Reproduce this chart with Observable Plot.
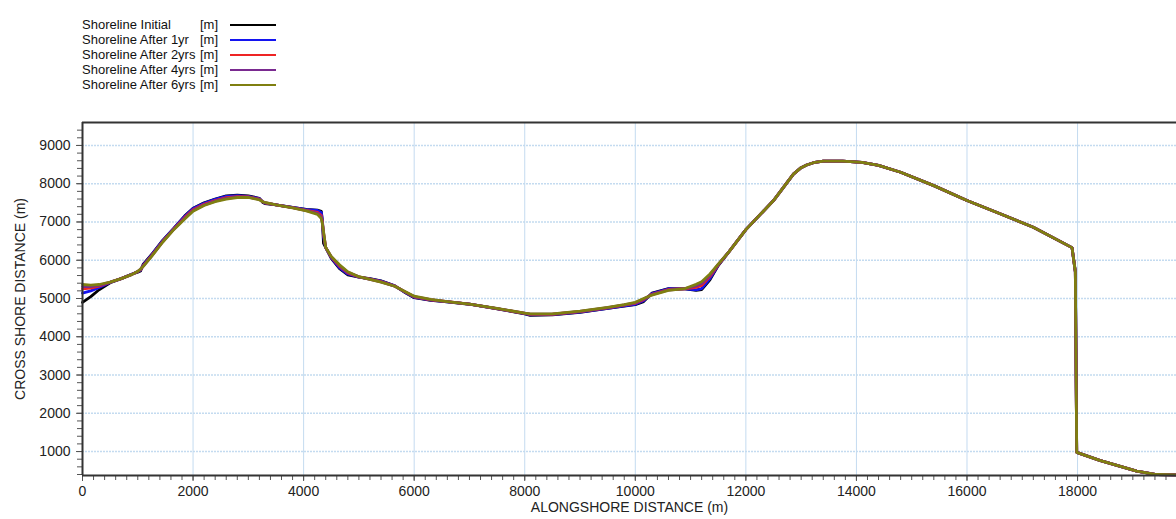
<!DOCTYPE html>
<html><head><meta charset="utf-8">
<script src="https://cdn.jsdelivr.net/npm/d3@7"></script>
<script src="https://cdn.jsdelivr.net/npm/@observablehq/plot@0.6"></script>
<style>
body{margin:0;background:#fff;font-family:"Liberation Sans",Arial,sans-serif;}
#legend{position:relative;height:105px;width:1176px;}
.lg-name{position:absolute;left:82px;font-size:13px;line-height:15px;color:#111;white-space:pre;}
.lg-unit{position:absolute;left:200px;font-size:13px;line-height:15px;color:#111;}
.lg-line{position:absolute;left:230px;width:46px;height:0;border-top:2.5px solid #000;}
#chart svg{display:block;}
</style></head><body>
<div id="legend"></div>
<div id="chart"></div>
<script>
const seriesNames = ["Shoreline Initial", "Shoreline After 1yr", "Shoreline After 2yrs", "Shoreline After 4yrs", "Shoreline After 6yrs"];
const seriesColors = ["#000000", "#1414f0", "#ee2424", "#7a2a90", "#7f7f10"];
const unitLabel = "[m]";

// alongshore positions where the series differ
const headX = [0, 150, 300, 500, 700, 900, 1000, 1050, 1100, 1250, 1450, 1650, 1850, 2000, 2200, 2400, 2600, 2800, 3000, 3200, 3260, 3300, 3500, 3800, 4050, 4250, 4320, 4340, 4360, 4400, 4500, 4650, 4800, 5000, 5200, 5400, 5650, 5850, 6000, 6300, 6600, 7000, 7500, 8000, 8100, 8500, 9000, 9500, 9800, 10000, 10150, 10300, 10600, 10900, 11100, 11200, 11350, 11500, 11700];
const yInitial = [4900, 5050, 5230, 5410, 5520, 5640, 5690, 5720, 5900, 6150, 6520, 6830, 7160, 7360, 7500, 7600, 7680, 7700, 7680, 7620, 7510, 7480, 7450, 7380, 7330, 7310, 7280, 7000, 6440, 6330, 6050, 5780, 5620, 5560, 5520, 5460, 5330, 5140, 5020, 4950, 4910, 4850, 4730, 4600, 4560, 4570, 4640, 4740, 4800, 4840, 4920, 5140, 5260, 5250, 5210, 5230, 5490, 5860, 6230];
const y1yr = [5140, 5200, 5290, 5420, 5520, 5640, 5700, 5740, 5880, 6140, 6510, 6830, 7150, 7350, 7490, 7590, 7670, 7690, 7670, 7610, 7530, 7490, 7450, 7380, 7320, 7300, 7250, 7050, 6600, 6330, 6060, 5800, 5640, 5560, 5515, 5455, 5330, 5150, 5030, 4955, 4912, 4852, 4733, 4605, 4570, 4578, 4645, 4745, 4808, 4850, 4940, 5130, 5255, 5250, 5225, 5260, 5520, 5870, 6235];
const y2yrs = [5250, 5270, 5320, 5425, 5520, 5635, 5705, 5755, 5860, 6120, 6490, 6815, 7120, 7320, 7460, 7560, 7635, 7665, 7655, 7595, 7530, 7500, 7450, 7375, 7305, 7250, 7170, 7000, 6700, 6330, 6080, 5840, 5670, 5565, 5505, 5440, 5325, 5160, 5045, 4965, 4916, 4853, 4736, 4612, 4585, 4588, 4657, 4757, 4824, 4875, 4970, 5110, 5235, 5255, 5290, 5340, 5580, 5880, 6232];
const y4yrs = [5310, 5310, 5345, 5428, 5520, 5632, 5708, 5765, 5850, 6110, 6480, 6808, 7100, 7300, 7445, 7545, 7615, 7650, 7648, 7588, 7530, 7505, 7450, 7372, 7297, 7225, 7130, 6975, 6730, 6330, 6090, 5860, 5685, 5568, 5502, 5435, 5322, 5165, 5052, 4970, 4918, 4854, 4738, 4616, 4592, 4594, 4663, 4763, 4832, 4888, 4985, 5100, 5222, 5258, 5330, 5390, 5610, 5890, 6231];
const y6yrs = [5366, 5350, 5366, 5430, 5520, 5630, 5710, 5770, 5840, 6100, 6470, 6800, 7080, 7280, 7430, 7530, 7600, 7640, 7640, 7580, 7530, 7510, 7450, 7370, 7290, 7200, 7090, 6950, 6750, 6330, 6100, 5880, 5700, 5570, 5500, 5430, 5320, 5170, 5060, 4975, 4920, 4855, 4740, 4620, 4600, 4600, 4670, 4770, 4840, 4900, 5000, 5090, 5210, 5260, 5370, 5440, 5640, 5900, 6230];

// shared part where all series coincide
const tailX = [12000, 12500, 12860, 13000, 13100, 13250, 13400, 13750, 14100, 14400, 14800, 15400, 16000, 16600, 17200, 17900, 17960, 17985, 18400, 19070, 19430, 19800];
const tailY = [6800, 7560, 8250, 8420, 8490, 8560, 8590, 8590, 8560, 8480, 8300, 7950, 7560, 7215, 6864, 6330, 5700, 980, 770, 490, 400, 390];

const xTickValues = [0, 2000, 4000, 6000, 8000, 10000, 12000, 14000, 16000, 18000];
const yTickValues = [1000, 2000, 3000, 4000, 5000, 6000, 7000, 8000, 9000];
const xTitle = "ALONGSHORE DISTANCE (m)";
const yTitle = "CROSS SHORE DISTANCE (m)";

const headSeries = [yInitial, y1yr, y2yrs, y4yrs, y6yrs];
const rows = [];
seriesNames.forEach((name, i) => {
  headX.forEach((x, j) => rows.push({series: name, x, y: headSeries[i][j]}));
  tailX.forEach((x, j) => rows.push({series: name, x, y: tailY[j]}));
});

// legend
const lg = document.getElementById("legend");
seriesNames.forEach((name, i) => {
  const top = 17 + i * 15;
  const a = document.createElement("div"); a.className = "lg-name"; a.style.top = top + "px"; a.textContent = name; lg.appendChild(a);
  const b = document.createElement("div"); b.className = "lg-unit"; b.style.top = top + "px"; b.textContent = unitLabel; lg.appendChild(b);
  const c = document.createElement("div"); c.className = "lg-line"; c.style.top = (top + 6.5) + "px"; c.style.borderTopColor = seriesColors[i]; lg.appendChild(c);
});

const xMax = 19790, yMin = 374, yMax = 9600;
const minorX = d3.range(0, xMax, 200);
const minorY = d3.range(400, yMax, 200);

const chart = Plot.plot({
  width: 1176, height: 414,
  marginLeft: 82, marginRight: 0, marginTop: 17, marginBottom: 44,
  x: {domain: [0, xMax]},
  y: {domain: [yMin, yMax]},
  color: {domain: seriesNames, range: seriesColors},
  style: {fontFamily: "Liberation Sans, Arial, sans-serif", fontSize: "14px", color: "#222", background: "#fff"},
  marks: [
    Plot.gridX(xTickValues, {stroke: "#c4dbf0", strokeOpacity: 1, strokeWidth: 1}),
    Plot.gridY(yTickValues, {stroke: "#c4dbf0", strokeOpacity: 1, strokeWidth: 1.5, strokeDasharray: "2,1"}),
    Plot.axisX(minorX, {tickSize: 5, tickFormat: () => "", stroke: "#555", label: null}),
    Plot.axisX(xTickValues, {tickSize: 6, tickPadding: 5, tickFormat: d => String(d), stroke: "#555", label: null, fontSize: 14}),
    Plot.axisY(minorY, {tickSize: 5, tickFormat: () => "", stroke: "#555", label: null}),
    Plot.axisY(yTickValues, {tickSize: 6, tickPadding: 6, tickFormat: d => String(d), stroke: "#555", label: null, fontSize: 14}),
    Plot.line(rows, {x: "x", y: "y", z: "series", stroke: "series", strokeWidth: 2.8, strokeLinejoin: "round"}),
    Plot.ruleY([yMax], {stroke: "#333", strokeWidth: 2}),
    Plot.ruleY([yMin], {stroke: "#333", strokeWidth: 2}),
    Plot.ruleX([0], {stroke: "#333", strokeWidth: 2}),
    Plot.text([xTitle], {frameAnchor: "bottom", dy: 36, fontSize: 14, fill: "#222"}),
    Plot.text([yTitle], {frameAnchor: "left", dx: -62, rotate: -90, textAnchor: "middle", fontSize: 14, fill: "#222"})
  ]
});
document.getElementById("chart").appendChild(chart);
</script>
</body></html>
